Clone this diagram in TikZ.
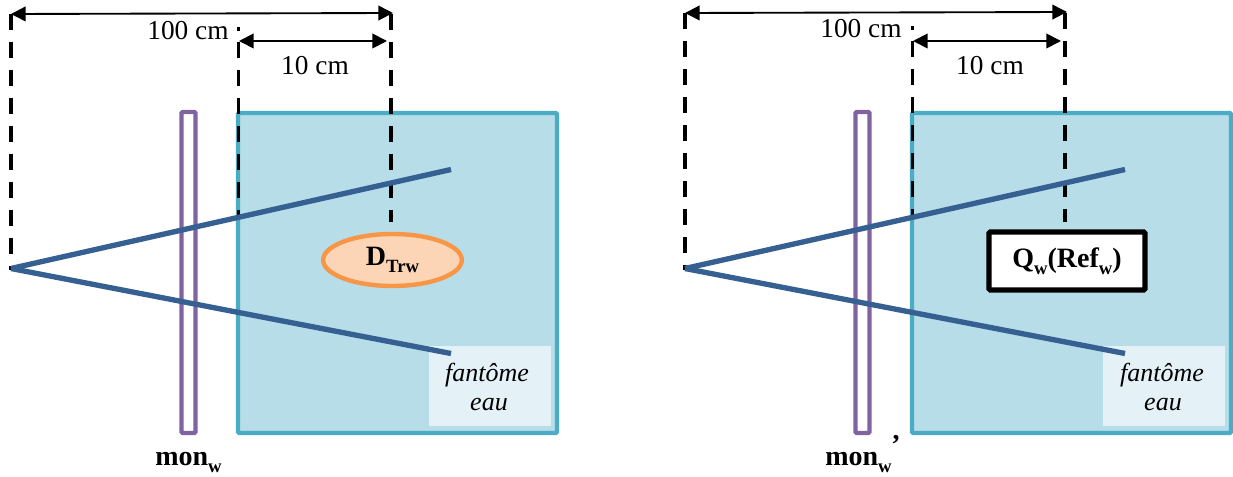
\documentclass[tikz,border=0pt]{standalone}
\usepackage{fontspec}
\setmainfont{Liberation Serif}
\usetikzlibrary{arrows.meta, shapes.geometric}
\newcommand{\sbs}[1]{\raisebox{-5pt}{\fontsize{14}{14}\selectfont #1}}
\definecolor{phantomline}{HTML}{4BACC6}
\definecolor{phantomfill}{HTML}{B7DDE8}
\definecolor{labelfill}{HTML}{E4F2F7}
\definecolor{monline}{HTML}{8064A2}
\definecolor{beamline}{HTML}{376092}
\definecolor{doseline}{HTML}{F79646}
\definecolor{dosefill}{HTML}{FBD5B5}
\tikzset{
  txt/.style={font=\fontsize{20.5}{24}\selectfont, inner sep=0pt},
  boldtxt/.style={font=\fontsize{21}{24}\selectfont\bfseries, inner sep=0pt},
  itxt/.style={font=\fontsize{19.5}{24}\selectfont\itshape, inner sep=0pt},
  phantombox/.style={draw=phantomline, fill=phantomfill, line width=3.3pt, rounded corners=1pt, minimum width=239.25pt, minimum height=240pt, inner sep=0pt},
  monbox/.style={draw=monline, line width=3.3pt, rounded corners=1pt, minimum width=10.5pt, minimum height=240.75pt, inner sep=0pt},
  labelbox/.style={fill=labelfill, minimum width=91.5pt, minimum height=60pt, inner sep=0pt},
  dosebox/.style={ellipse, draw=doseline, fill=dosefill, line width=3.3pt, minimum width=104pt, minimum height=39pt, inner sep=0pt},
  chargebox/.style={draw=black, fill=white, line width=4pt, rounded corners=1pt, minimum width=117pt, minimum height=43.5pt, inner sep=0pt},
  dotbox/.style={fill=black, minimum size=2.6pt, inner sep=0pt},
  beam/.style={draw=beamline, line width=4pt},
  dim/.style={line width=1.4pt, {Triangle[length=11pt,width=11pt]}-{Triangle[length=11pt,width=11pt]}},
  guide/.style={line width=2.6pt, dash pattern=on 12pt off 9pt}
}

\begin{document}
\begin{tikzpicture}[x=0.75pt, y=-0.75pt]
  \useasboundingbox (0, 0) rectangle (1233, 477);

  \node[phantombox] (phantom1) at (397.5, 273) {};
  \node[monbox] (mon1) at (188.5, 272.5) {};
  \node[labelbox] (label1) at (490, 386) {};
  \node[dosebox] (dose1) at (392.5, 260) {\fontsize{21}{24}\selectfont\bfseries D\sbs{Trw}};
  \node[dotbox] (dot1) at (238.5, 29) {};
  \coordinate (src1) at (11, 268.5);
  \coordinate (up1) at (451, 169.5);
  \coordinate (down1) at (451, 353.5);
  \coordinate (a1) at (11, 14);
  \coordinate (a2) at (11, 270);
  \coordinate (b1) at (391, 14);
  \coordinate (b2) at (391, 222);
  \coordinate (c1) at (238.5, 42);
  \coordinate (c2) at (238.5, 220);
  \coordinate (d1) at (393, 13);
  \coordinate (e1) at (239, 41);
  \coordinate (e2) at (387, 41);
  \draw[guide] (a1) to (a2);
  \draw[guide] (b1) to (b2);
  \draw[guide] (c1) to (c2);
  \draw[beam] (src1) to (up1);
  \draw[beam] (src1) to (down1);
  \draw[dim] (a1) to (d1);
  \draw[dim] (e1) to (e2);
  \node[txt, anchor=base] (far1) at (188, 40) {100 cm};
  \node[txt, anchor=base] (near1) at (315, 75) {10 cm};
  \node[itxt, anchor=base] (fant1) at (487, 382) {fantôme};
  \node[itxt, anchor=base] (eau1) at (489, 411) {eau};
  \node[boldtxt, anchor=base west] (monw1) at (155, 466) {mon\sbs{w}};

  \node[phantombox] (phantom2) at (1071.5, 273) {};
  \node[monbox] (mon2) at (862.5, 272.5) {};
  \node[labelbox] (label2) at (1164, 386) {};
  \node[chargebox] (charge2) at (1067, 261) {\fontsize{21}{24}\selectfont\bfseries Q\sbs{w}(Ref\sbs{w})};
  \node[dotbox] (dot2) at (912.5, 28) {};
  \coordinate (src2) at (685, 268.5);
  \coordinate (up2) at (1125, 169.5);
  \coordinate (down2) at (1125, 353.5);
  \coordinate (f1) at (685, 13);
  \coordinate (f2) at (685, 270);
  \coordinate (g1) at (1065, 13);
  \coordinate (g2) at (1065, 222);
  \coordinate (h1) at (912.5, 41);
  \coordinate (h2) at (912.5, 220);
  \coordinate (i1) at (1067, 12);
  \coordinate (j1) at (913, 41);
  \coordinate (j2) at (1061, 41);
  \draw[guide] (f1) to (f2);
  \draw[guide] (g1) to (g2);
  \draw[guide] (h1) to (h2);
  \draw[beam] (src2) to (up2);
  \draw[beam] (src2) to (down2);
  \draw[dim] (f1) to (i1);
  \draw[dim] (j1) to (j2);
  \node[txt, anchor=base] (far2) at (861, 38) {100 cm};
  \node[txt, anchor=base] (near2) at (990, 75) {10 cm};
  \node[itxt, anchor=base] (fant2) at (1162, 382) {fantôme};
  \node[itxt, anchor=base] (eau2) at (1163, 411) {eau};
  \node[boldtxt, anchor=base west] (monw2) at (825, 466) {mon\sbs{w}};
  \node[boldtxt, anchor=base] (comma2) at (896, 440) {,};
\end{tikzpicture}
\end{document}
